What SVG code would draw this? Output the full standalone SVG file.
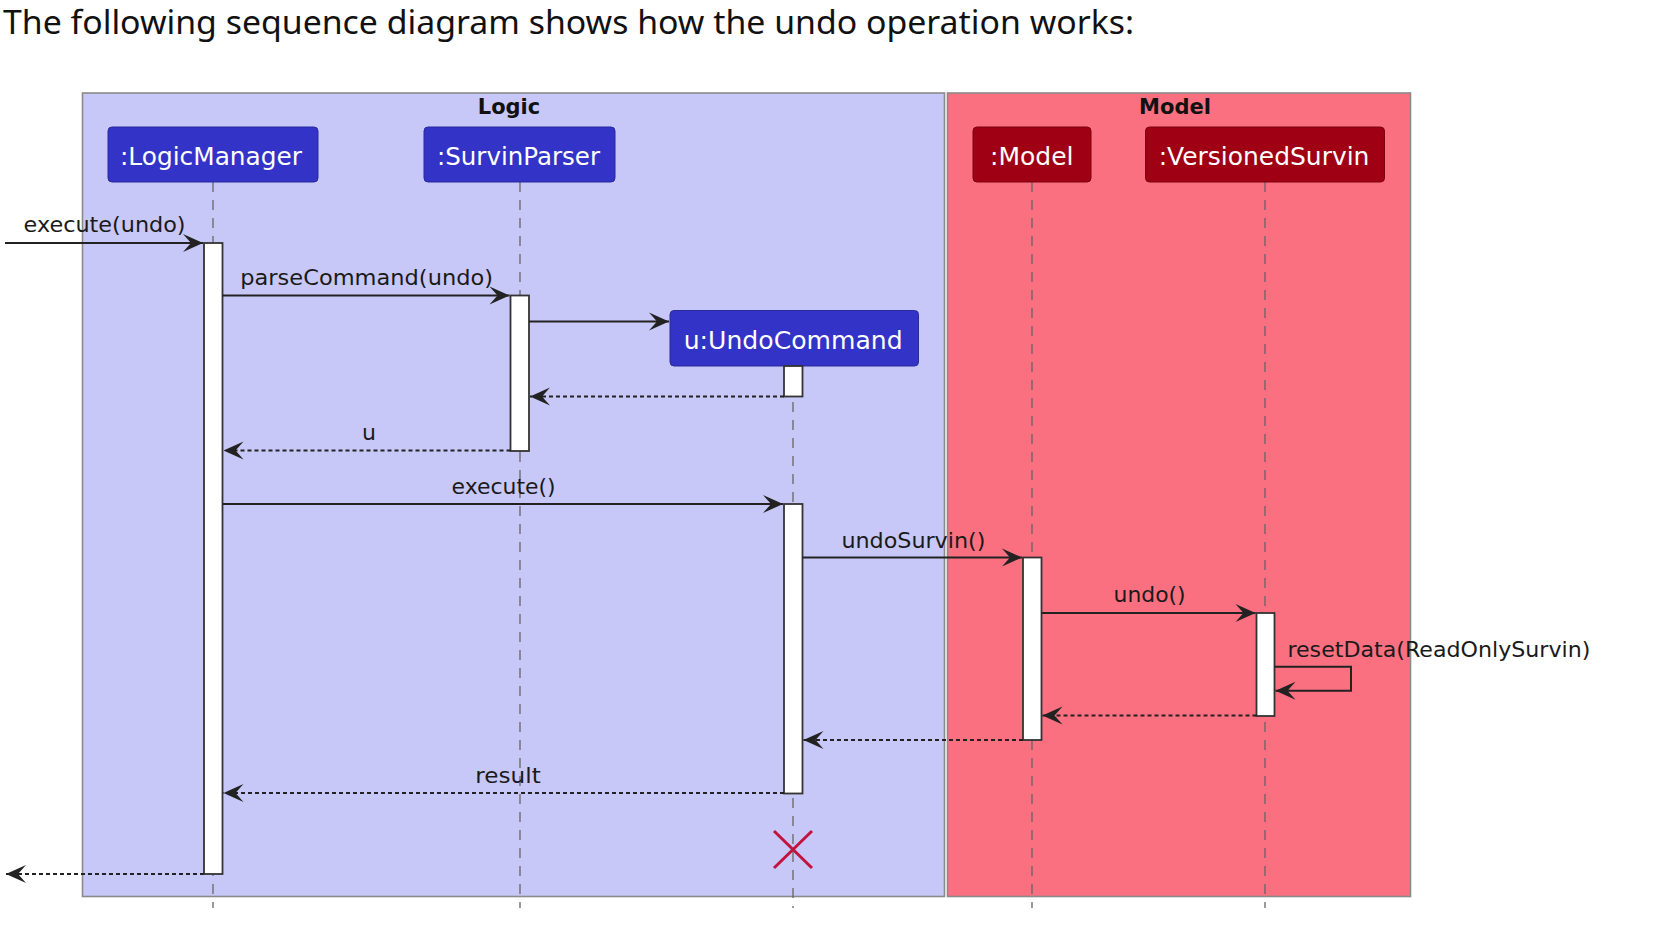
<svg xmlns="http://www.w3.org/2000/svg" width="1678" height="928" viewBox="0 0 1678 928">
<style>
.title{font-family:"Noto Sans","Open Sans",sans-serif;font-size:33px;fill:#111}
.frame{stroke:#8a8a8a;stroke-width:1.6}
.ftitle{font-family:"DejaVu Sans",sans-serif;font-weight:bold;font-size:21px;fill:#111;text-anchor:middle}
.pbox-b{fill:#3333C8;stroke:#2a2a9a;stroke-width:1}
.pbox-r{fill:#A00014;stroke:#7a0010;stroke-width:1}
.ptext{font-family:"DejaVu Sans",sans-serif;font-size:25px;fill:#fff}
.life{stroke:#666;stroke-width:1.3;stroke-dasharray:10,8;fill:none}
.act{fill:#fff;stroke:#333;stroke-width:1.8}
.msg{stroke:#222;stroke-width:2;fill:none}
.ret{stroke:#222;stroke-width:2;fill:none;stroke-dasharray:4,3}
.mtext{font-family:"DejaVu Sans",sans-serif;font-size:22px;fill:#1a1a1a}
.destroy{stroke:#C2123E;stroke-width:3;fill:none}
</style>
<defs>
<marker id="ah" viewBox="-22 -11 23 22" markerWidth="23" markerHeight="22" refX="0" refY="0" orient="auto" markerUnits="userSpaceOnUse">
<path d="M0,0 L-20,-9 L-12,0 L-20,9 Z" fill="#222"/>
</marker>
</defs>
<rect width="1678" height="928" fill="#fff"/>
<text class="title" x="3" y="34" textLength="1131" lengthAdjust="spacingAndGlyphs">The following sequence diagram shows how the undo operation works:</text>

<g id="frame-logic">
<rect class="frame" x="82.5" y="93" width="862" height="803.5" fill="#C8C8F8"/>
<text class="ftitle" x="509" y="114">Logic</text>
</g>
<g id="frame-model">
<rect class="frame" x="947.5" y="93" width="463" height="803.5" fill="#FA7080"/>
<text class="ftitle" x="1175" y="114">Model</text>
</g>

<g id="lifelines">
<line class="life" x1="213" y1="182" x2="213" y2="908"/>
<line class="life" x1="520" y1="182" x2="520" y2="908"/>
<line class="life" x1="793" y1="366" x2="793" y2="908"/>
<line class="life" x1="1032" y1="182" x2="1032" y2="908"/>
<line class="life" x1="1265" y1="182" x2="1265" y2="908"/>
</g>

<g id="LogicManager">
<rect class="pbox-b" x="108" y="127" width="210" height="55" rx="4"/>
<text class="ptext" x="120" y="164.5" textLength="182" lengthAdjust="spacingAndGlyphs">:LogicManager</text>
</g>
<g id="SurvinParser">
<rect class="pbox-b" x="424" y="127" width="191" height="55" rx="4"/>
<text class="ptext" x="437" y="164.5" textLength="163" lengthAdjust="spacingAndGlyphs">:SurvinParser</text>
</g>
<g id="Model">
<rect class="pbox-r" x="973" y="127" width="118" height="55" rx="4"/>
<text class="ptext" x="990" y="164.5" textLength="83.5" lengthAdjust="spacingAndGlyphs">:Model</text>
</g>
<g id="VersionedSurvin">
<rect class="pbox-r" x="1145.5" y="127" width="239" height="55" rx="4"/>
<text class="ptext" x="1158.7" y="164.5" textLength="210.7" lengthAdjust="spacingAndGlyphs">:VersionedSurvin</text>
</g>
<g id="UndoCommand">
<rect class="pbox-b" x="670" y="310.5" width="248.5" height="55.5" rx="4"/>
<text class="ptext" x="683.7" y="348.5" textLength="219" lengthAdjust="spacingAndGlyphs">u:UndoCommand</text>
</g>

<g id="activations">
<rect class="act" x="204" y="243" width="18.5" height="631"/>
<rect class="act" x="510.5" y="295.5" width="18.5" height="155.5"/>
<rect class="act" x="784" y="366" width="18.5" height="30.5"/>
<rect class="act" x="784" y="504" width="18.5" height="289.5"/>
<rect class="act" x="1023" y="557.5" width="18.5" height="182.5"/>
<rect class="act" x="1256.5" y="613" width="18" height="103"/>
</g>

<g id="connectors">
<line class="msg" x1="5" y1="243" x2="203" y2="243" marker-end="url(#ah)"/>
<line class="msg" x1="222.5" y1="295.5" x2="509.5" y2="295.5" marker-end="url(#ah)"/>
<line class="msg" x1="529" y1="321.5" x2="669" y2="321.5" marker-end="url(#ah)"/>
<line class="ret" x1="784" y1="396.5" x2="530" y2="396.5" marker-end="url(#ah)"/>
<line class="ret" x1="510.5" y1="450.5" x2="223.5" y2="450.5" marker-end="url(#ah)"/>
<line class="msg" x1="222.5" y1="504" x2="783" y2="504" marker-end="url(#ah)"/>
<line class="msg" x1="802.5" y1="557.5" x2="1022" y2="557.5" marker-end="url(#ah)"/>
<line class="msg" x1="1041.5" y1="613" x2="1255.5" y2="613" marker-end="url(#ah)"/>
<path class="msg" d="M1274.5,666.8 H1351 V690.7 H1275.5" marker-end="url(#ah)"/>
<line class="ret" x1="1256.5" y1="715.5" x2="1042.5" y2="715.5" marker-end="url(#ah)"/>
<line class="ret" x1="1023" y1="740" x2="803.5" y2="740" marker-end="url(#ah)"/>
<line class="ret" x1="784" y1="793" x2="223.5" y2="793" marker-end="url(#ah)"/>
<line class="ret" x1="204" y1="874" x2="6" y2="874" marker-end="url(#ah)"/>
</g>

<g id="labels">
<text class="mtext" x="23.6" y="232" textLength="162" lengthAdjust="spacingAndGlyphs">execute(undo)</text>
<text class="mtext" x="240.3" y="285" textLength="252.7" lengthAdjust="spacingAndGlyphs">parseCommand(undo)</text>
<text class="mtext" x="369" y="440" text-anchor="middle">u</text>
<text class="mtext" x="451.6" y="494" textLength="104" lengthAdjust="spacingAndGlyphs">execute()</text>
<text class="mtext" x="841.4" y="548" textLength="144" lengthAdjust="spacingAndGlyphs">undoSurvin()</text>
<text class="mtext" x="1113.6" y="602" textLength="72" lengthAdjust="spacingAndGlyphs">undo()</text>
<text class="mtext" x="1287.4" y="657" textLength="303" lengthAdjust="spacingAndGlyphs">resetData(ReadOnlySurvin)</text>
<text class="mtext" x="475.3" y="783" textLength="65.5" lengthAdjust="spacingAndGlyphs">result</text>
</g>

<g id="destroy">
<path class="destroy" d="M774,831 L812,868 M812,831 L774,868"/>
</g>
</svg>
